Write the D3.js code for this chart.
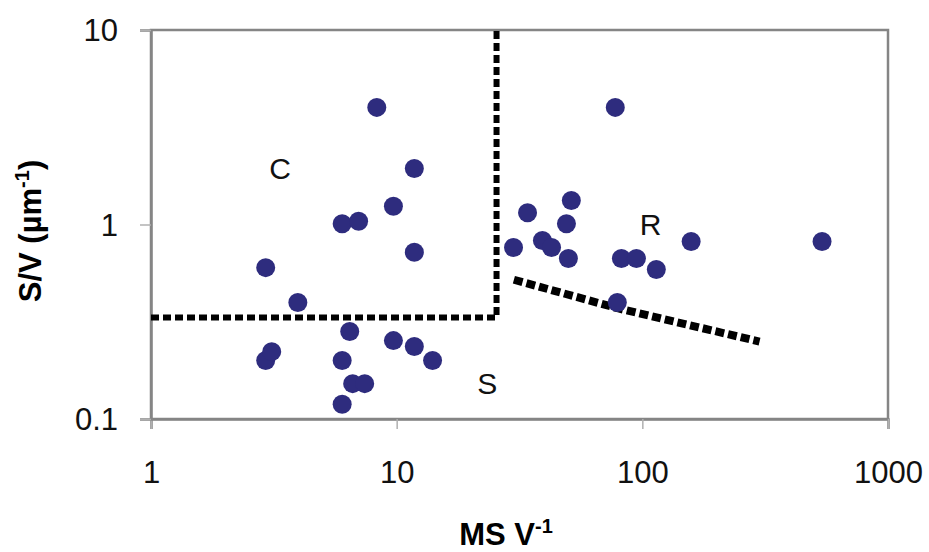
<!DOCTYPE html>
<html>
<head>
<meta charset="utf-8">
<script src="https://cdn.jsdelivr.net/npm/d3@7"></script>
<style>
  body { margin: 0; background: #fff; }
  svg { font-family: "Liberation Sans", Arial, sans-serif; }
</style>
</head>
<body>
<div class="chart"></div>
<script>
// MS V-1 (x) vs S/V (y), log-log
var msValues = [8.3, 11.8, 9.7, 6.0, 7.0, 11.8, 2.93, 3.96, 6.44, 9.7, 11.8, 14.0, 2.93, 3.1, 6.0, 6.62, 7.41, 6.0,
                77.6, 51.4, 34.1, 49.1, 29.9, 39.2, 42.7, 50.0, 82.2, 94.6, 114, 158, 539, 79.1];
var svValues = [4.0, 1.94, 1.24, 1.01, 1.04, 0.72, 0.60, 0.397, 0.282, 0.253, 0.236, 0.2, 0.2, 0.222, 0.2, 0.152, 0.152, 0.119,
                4.0, 1.33, 1.15, 1.01, 0.762, 0.828, 0.762, 0.669, 0.669, 0.669, 0.587, 0.818, 0.818, 0.397];

// boundary lines
var boundaryCS = [[1, 0.333], [25.5, 0.333], [25.5, 10]];
var boundaryRS = [[30, 0.52], [80, 0.37], [300, 0.25]];

var regionLabels = ["C", "R", "S"];
var regionPos = [[3.35, 1.95], [108, 1.0], [23.4, 0.153]];

var xTicks = [1, 10, 100, 1000];
var yTicks = [0.1, 1, 10];

var width = 929, height = 552;
var margin = { "top": 30, "bottom": 133, "right": 40, "left": 151 };

var svg = d3.select("div.chart").append("svg").attr("width", width).attr("height", height);

var xScale = d3.scaleLog()
  .domain([1, 1000])
  .range([margin.left, width - margin.right - 1]);

var yScale = d3.scaleLog()
  .domain([0.1, 10])
  .range([height - margin.bottom, margin.top]);

var axisColor = "#858585";

// plot frame
svg.append("rect")
  .attr("x", xScale(1))
  .attr("y", yScale(10))
  .attr("width", xScale(1000) - xScale(1))
  .attr("height", yScale(0.1) - yScale(10))
  .attr("fill", "none")
  .attr("stroke", axisColor)
  .attr("stroke-width", 2.5);

var axisx = d3.axisBottom(xScale).tickValues(xTicks).tickFormat(d3.format("d")).tickSize(10).tickPadding(32);
var axisy = d3.axisLeft(yScale).tickValues(yTicks).tickFormat(function(d) { return d; }).tickSize(11).tickPadding(22);

var gx = svg.append("g")
  .attr("transform", "translate(0," + yScale(0.1) + ")")
  .call(axisx);

var gy = svg.append("g")
  .attr("transform", "translate(" + xScale(1) + ",0)")
  .call(axisy);

[gx, gy].forEach(function(g) {
  g.select(".domain").attr("stroke", axisColor).attr("stroke-width", 2.5);
  g.selectAll(".tick line").attr("stroke", "#b0b0b0").attr("stroke-width", 1.5);
  g.selectAll(".tick text")
    .attr("fill", "#111")
    .attr("font-size", "31px")
    .attr("font-family", "'Liberation Sans', Arial, sans-serif");
});
gy.selectAll(".tick text").attr("dy", "0.34em");

// axis titles
var xt = svg.append("text")
  .attr("x", 506)
  .attr("y", 545)
  .attr("text-anchor", "middle")
  .attr("font-size", "31px")
  .attr("font-weight", "bold");
xt.append("tspan").text("MS V");
xt.append("tspan").attr("dy", -12).attr("font-size", "20px").text("-1");

var yt = svg.append("text")
  .attr("transform", "translate(41,231) rotate(-90)")
  .attr("text-anchor", "middle")
  .attr("font-size", "31px")
  .attr("font-weight", "bold");
yt.append("tspan").text("S/V (µm");
yt.append("tspan").attr("dy", -12).attr("font-size", "20px").text("-1");
yt.append("tspan").attr("dy", 12).text(")");

// boundaries
var line = d3.line()
  .x(function(d) { return xScale(d[0]); })
  .y(function(d) { return yScale(d[1]); });

svg.append("path")
  .datum(boundaryCS)
  .attr("fill", "none")
  .attr("stroke", "#000")
  .attr("stroke-width", 6)
  .attr("stroke-dasharray", "8,4")
  .attr("d", line);

svg.append("path")
  .datum(boundaryRS)
  .attr("fill", "none")
  .attr("stroke", "#000")
  .attr("stroke-width", 8)
  .attr("stroke-dasharray", "9,4")
  .attr("d", line);

// points
svg.append("g")
  .selectAll("circle")
  .data(msValues)
  .enter()
  .append("circle")
  .attr("cx", function(d) { return xScale(d); })
  .attr("cy", function(d, i) { return yScale(svValues[i]); })
  .attr("r", 9.5)
  .attr("fill", "#2e2c7e");

// region labels
svg.append("g")
  .selectAll("text")
  .data(regionLabels)
  .enter()
  .append("text")
  .attr("x", function(d, i) { return xScale(regionPos[i][0]); })
  .attr("y", function(d, i) { return yScale(regionPos[i][1]); })
  .attr("text-anchor", "middle")
  .attr("dy", "0.35em")
  .attr("font-size", "30px")
  .attr("fill", "#111")
  .text(function(d) { return d; });
</script>
</body>
</html>
